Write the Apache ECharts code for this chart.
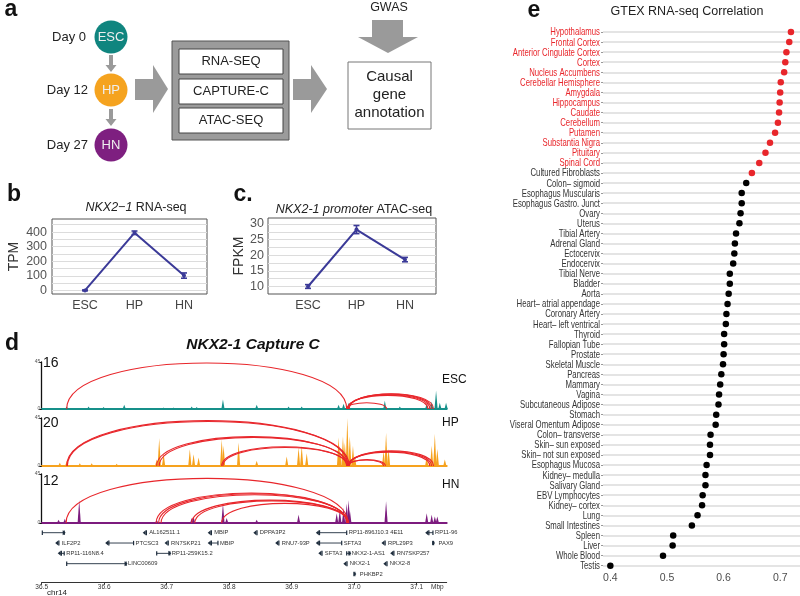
<!DOCTYPE html>
<html><head><meta charset="utf-8">
<script src="https://cdn.jsdelivr.net/npm/echarts@6/dist/echarts.min.js"></script>
<style>html,body{margin:0;padding:0;background:#fff}#c{width:800px;height:596px}</style>
</head><body><div id="c"></div>
<script>
// ================= DATA =================
const stageNames = ['ESC', 'HP', 'HN'];
const rnaTPM = [2, 395, 103];
const rnaErr = [3, 12, 18];
const rnaLabels = [0, 100, 200, 300, 400];
const rnaGrid = [0, 50, 100, 150, 200, 250, 300, 350, 400, 450];
const atacFPKM = [10, 28.2, 18.6];
const atacErr = [0.6, 1.3, 0.7];
const atacLabels = [10, 15, 20, 25, 30];
const atacGrid = [10, 12.5, 15, 17.5, 20, 22.5, 25, 27.5, 30];

const tissues = ['Hypothalamus','Frontal Cortex','Anterior Cingulate Cortex','Cortex','Nucleus Accumbens',
 'Cerebellar Hemisphere','Amygdala','Hippocampus','Caudate','Cerebellum','Putamen','Substantia Nigra',
 'Pituitary','Spinal Cord','Cultured Fibroblasts','Colon\u2013 sigmoid','Esophagus Muscularis',
 'Esophagus Gastro. Junct','Ovary','Uterus','Tibial Artery','Adrenal Gland','Ectocervix','Endocervix',
 'Tibial Nerve','Bladder','Aorta','Heart\u2013 atrial appendage','Coronary Artery','Heart\u2013 left ventrical',
 'Thyroid','Fallopian Tube','Prostate','Skeletal Muscle','Pancreas','Mammary','Vagina',
 'Subcutaneous Adipose','Stomach','Viseral Omentum Adipose','Colon\u2013 transverse','Skin\u2013 sun exposed',
 'Skin\u2013 not sun exposed','Esophagus Mucosa','Kidney\u2013 medulla','Salivary Gland','EBV Lymphocytes',
 'Kidney\u2013 cortex','Lung','Small Intestines','Spleen','Liver','Whole Blood','Testis'];
const gtexCorr = [0.719,0.716,0.711,0.709,0.707,0.701,0.700,0.699,0.698,0.696,0.691,0.682,0.674,0.663,
 0.650,0.640,0.632,0.632,0.630,0.628,0.622,0.620,0.619,0.617,0.611,0.611,0.609,0.607,0.605,0.604,
 0.601,0.601,0.600,0.599,0.596,0.594,0.592,0.591,0.587,0.586,0.577,0.576,0.576,0.570,0.568,0.568,
 0.563,0.562,0.554,0.544,0.511,0.510,0.493,0.400];
const brainLabelCount = 14;
const redDotCount = 15;
const gtexTicks = [0.4, 0.5, 0.6, 0.7];

const chrTicks = [36.5, 36.6, 36.7, 36.8, 36.9, 37.0, 37.1];
// peaks: [position (Mbp), signal]
const escPeaks = [[36.540,2.5],[36.575,2.5],[36.599,2],[36.632,4],[36.695,1.5],[36.711,1.5],[36.740,2.5],
 [36.748,2],[36.790,9],[36.844,4],[36.895,2.5],[36.916,2.5],[36.975,4],[36.983,5],[36.991,6],[37.049,8],
 [37.073,2.5],[37.116,5],[37.124,7],[37.131,17.5],[37.137,6],[37.147,6]];
const hpPeaks = [[36.529,3],[36.540,4.7],[36.561,2.5],[36.580,2.5],[36.620,2],[36.684,6],[36.688,26],
 [36.695,12],[36.737,15.6],[36.743,11],[36.751,8],[36.788,25],[36.791,19],[36.815,22],[36.844,5],
 [36.892,9],[36.911,17],[36.916,19],[36.924,12],[36.975,27],[36.977,19],[36.982,28],[36.985,22],
 [36.989,44.7],[36.993,28],[36.998,19],[37.001,9],[37.047,14],[37.051,31],[37.055,16],[37.116,9],
 [37.124,19],[37.129,30],[37.133,16],[37.145,6]];
const hnPeaks = [[36.527,3],[36.537,4],[36.560,21],[36.684,3],[36.740,4.5],[36.743,6],[36.790,18],
 [36.796,4.5],[36.844,3],[36.911,7.6],[36.972,9],[36.977,12],[36.983,13.7],[36.988,18],[36.991,21],
 [36.993,12],[37.051,20],[37.116,9],[37.124,7.6],[37.129,6],[37.133,6]];
// arcs: [from, to, apex height]
const escArcs = [[36.540,36.988,44],[36.988,37.052,6],[36.989,37.118,13],[36.990,37.121,13.6],
 [36.991,37.124,14.2],[36.992,37.127,14.6]];
const hpArcs = [[36.540,36.990,42.5],[36.541,36.992,41.7],[36.684,36.988,27.5],[36.688,36.990,26.8],
 [36.788,36.988,18],[36.790,36.990,17.3],[36.990,37.121,13],[36.991,37.124,13.6],[36.992,37.127,14.2],
 [36.990,37.047,5.6],[36.991,37.050,6]];
const hnArcs = [[36.539,36.990,41],[36.683,36.988,27.5],[36.687,36.989,26.8],[36.691,36.990,26],
 [36.740,36.990,21],[36.745,36.991,20.3],[36.788,36.990,18]];
const trackNames = ['ESC', 'HP', 'HN'];
const trackCounts = ['16', '20', '12'];
// genes: [name, start, end, row, strand]
const genes = [['',36.501,36.536,1,'+'],['AL162511.1',36.664,36.664,1,'-'],['MBIP',36.768,36.768,1,'-'],
 ['DPPA3P2',36.841,36.841,1,'-'],['RP11-896J10.3 4E11',36.941,36.988,1,'-'],['RP11-96',37.116,37.126,1,'-'],
 ['ILF2P2',36.524,36.524,2,'-'],['PTCSC3',36.604,36.647,2,'-'],['RN7SKP21',36.699,36.699,2,'-'],
 ['MBIP',36.768,36.782,2,'-'],['RNU7-93P',36.876,36.876,2,'-'],['SFTA3',36.941,36.980,2,'-'],
 ['RPL29P3',37.046,37.046,2,'-'],['PAX9',37.127,37.127,2,'+'],
 ['RP11-116N8.4',36.528,36.536,3,'-'],['RP11-259K15.2',36.684,36.705,3,'+'],['SFTA3',36.945,36.945,3,'-'],
 ['NKX2-1-AS1',36.988,36.993,3,'+'],['RN7SKP257',37.060,37.060,3,'-'],
 ['LINC00609',36.540,36.635,4,'+'],['NKX2-1',36.985,36.985,4,'-'],['NKX2-8',37.049,37.049,4,'-'],
 ['PHKBP2',37.001,37.001,5,'+']];

// ================= STYLE =================
const FONT = "'Liberation Sans', Arial, Helvetica, sans-serif";
const LINE_BLUE = '#3b3a98';
const RED = '#e8262b';
const TRACK_COLORS = ['#16908a', '#f6a21e', '#7c1b7e'];
const GTEX_MIN = 0.387, GTEX_MAX = 0.735;

function txt(x, y, text, size, o = {}) {
  const st = {
    text, x: 0, y: 0, fontSize: size, fontFamily: o.family || FONT,
    fontWeight: o.weight || 'normal', fontStyle: o.style || 'normal', fill: o.color || '#222',
    align: o.align || 'center', verticalAlign: 'middle',
    textAlign: o.align || 'center', textVerticalAlign: 'middle'
  };
  if (o.rich) st.rich = o.rich;
  const el = { type: 'text', x, y, style: st, z: 100 };
  if (o.scaleX) el.scaleX = o.scaleX;
  return el;
}
function poly(points, fill) { return { type: 'polygon', shape: { points }, style: { fill }, z: 50 }; }
function rect(x, y, w, h, fill, stroke, lw) { return { type: 'rect', shape: { x, y, width: w, height: h }, style: { fill, stroke, lineWidth: lw || 1 }, z: 50 }; }

const ARROW_GRAY = '#9a9a9a';
const graphics = [
  // panel letters
  txt(11, 10, 'a', 23, { weight: 'bold', color: '#111' }),
  txt(14, 195, 'b', 23, { weight: 'bold', color: '#111' }),
  txt(243, 195, 'c.', 23, { weight: 'bold', color: '#111' }),
  txt(12, 344, 'd', 23, { weight: 'bold', color: '#111' }),
  txt(534, 11, 'e', 23, { weight: 'bold', color: '#111' }),
  // panel a
  txt(86, 37, 'Day 0', 13, { align: 'right' }),
  txt(88, 90, 'Day 12', 13, { align: 'right' }),
  txt(88, 145, 'Day 27', 13, { align: 'right' }),
  { type: 'circle', shape: { cx: 111, cy: 37, r: 16.5 }, style: { fill: '#10857f' }, z: 50 },
  { type: 'circle', shape: { cx: 111, cy: 90, r: 16.5 }, style: { fill: '#f5a31f' }, z: 50 },
  { type: 'circle', shape: { cx: 111, cy: 145, r: 16.5 }, style: { fill: '#7e1f80' }, z: 50 },
  txt(111, 37, 'ESC', 13, { color: '#eee' }),
  txt(111, 90, 'HP', 13, { color: '#eee' }),
  txt(111, 145, 'HN', 13, { color: '#eee' }),
  poly([[109,55],[113,55],[113,65],[116.5,65],[111,72],[105.5,65],[109,65]], ARROW_GRAY),
  poly([[109,109],[113,109],[113,119],[116.5,119],[111,126],[105.5,119],[109,119]], ARROW_GRAY),
  poly([[135,79],[153,79],[153,65],[168,89],[153,113],[153,100],[135,100]], ARROW_GRAY),
  rect(172, 41, 117, 99, '#9b9b9b', '#555', 1),
  rect(179, 49, 104, 25, '#fff', '#444', 1),
  rect(179, 79, 104, 25, '#fff', '#444', 1),
  rect(179, 108, 104, 25, '#fff', '#444', 1),
  txt(231, 61.5, 'RNA-SEQ', 13),
  txt(231, 91.5, 'CAPTURE-C', 13),
  txt(231, 120.5, 'ATAC-SEQ', 13),
  poly([[293,79],[311,79],[311,65],[327,89],[311,113],[311,100],[293,100]], ARROW_GRAY),
  txt(389, 8, 'GWAS', 12.5),
  poly([[372,20],[403,20],[403,37],[418,37],[388,53],[358,37],[372,37]], ARROW_GRAY),
  rect(348, 62, 83, 67, '#fff', '#777', 1),
  txt(389.5, 77, 'Causal', 15),
  txt(389.5, 95, 'gene', 15),
  txt(389.5, 113, 'annotation', 15),
  // panel b / c titles
  txt(136, 208, '{i|NKX2\u22121} RNA-seq', 12.5, { rich: { i: { fontStyle: 'italic', fontSize: 12.5, fontFamily: FONT, fill: '#222' } } }),
  txt(354, 210, '{i|NKX2-1 promoter} ATAC-seq', 12.5, { rich: { i: { fontStyle: 'italic', fontSize: 12.5, fontFamily: FONT, fill: '#222' } } }),
  // panel d
  txt(253, 345, 'NKX2-1 Capture C', 15.5, { weight: 'bold', style: 'italic', color: '#111' }),
  txt(43, 363, trackCounts[0], 14, { align: 'left', color: '#111' }),
  txt(43, 423, trackCounts[1], 14, { align: 'left', color: '#111' }),
  txt(43, 481, trackCounts[2], 14, { align: 'left', color: '#111' }),
  txt(442, 380, trackNames[0], 12, { align: 'left', color: '#111' }),
  txt(442, 423, trackNames[1], 12, { align: 'left', color: '#111' }),
  txt(442, 485, trackNames[2], 12, { align: 'left', color: '#111' }),
  txt(431, 587, 'Mbp', 6.5, { align: 'left', color: '#333' }),
  txt(47, 593, 'chr14', 8, { align: 'left', color: '#222' }),
  // panel e title
  txt(687, 12, 'GTEX RNA-seq Correlation', 12.5, { color: '#222' })
];

// ================= HELPERS =================
function errorBarSeries(xi, yi, vals, errs) {
  return {
    type: 'custom', xAxisIndex: xi, yAxisIndex: yi, z: 5,
    data: vals.map((v, i) => [i, v, errs[i]]),
    renderItem(params, api) {
      const x = api.value(0), v = api.value(1), e = api.value(2);
      const t = api.coord([x, v + e]), b = api.coord([x, v - e]);
      const w = 3, st = { stroke: LINE_BLUE, lineWidth: 1.6 };
      return { type: 'group', children: [
        { type: 'line', shape: { x1: t[0], y1: t[1], x2: b[0], y2: b[1] }, style: st },
        { type: 'line', shape: { x1: t[0] - w, y1: t[1], x2: t[0] + w, y2: t[1] }, style: st },
        { type: 'line', shape: { x1: b[0] - w, y1: b[1], x2: b[0] + w, y2: b[1] }, style: st }
      ] };
    }
  };
}
function peakSeries(idx, peaks, color) {
  return {
    type: 'custom', xAxisIndex: idx, yAxisIndex: idx, z: 3, data: peaks,
    renderItem(params, api) {
      const p = api.coord([api.value(0), api.value(1)]);
      const b = api.coord([api.value(0), 0]);
      const w = 1.6;
      return { type: 'polygon', shape: { points: [[p[0] - w, b[1]], [p[0], p[1]], [p[0] + w, b[1]]] }, style: { fill: color } };
    }
  };
}
function arcSeries(idx, arcs) {
  return {
    type: 'custom', xAxisIndex: idx, yAxisIndex: idx, z: 6, data: arcs,
    renderItem(params, api) {
      const a = api.coord([api.value(0), 0]);
      const b = api.coord([api.value(1), 0]);
      const t = api.coord([api.value(0), api.value(2)]);
      const h = (a[1] - t[1]) * 4 / 3;
      return { type: 'bezierCurve', shape: { x1: a[0], y1: a[1], x2: b[0], y2: b[1], cpx1: a[0], cpy1: a[1] - h, cpx2: b[0], cpy2: b[1] - h },
        style: { stroke: RED, fill: null, lineWidth: 1.1 } };
    }
  };
}
function trackAxes(idx, color) {
  return {
    x: { type: 'value', gridIndex: idx, min: 36.5, max: 37.148, axisLine: { show: true, lineStyle: { color, width: 2 } },
      axisTick: { show: false }, axisLabel: { show: false }, splitLine: { show: false } },
    y: { type: 'value', gridIndex: idx, min: 0, max: 45, interval: 45, axisLine: { show: true, lineStyle: { color: '#111', width: 1.3 } },
      axisTick: { show: true, length: 2.5, lineStyle: { color: '#111' } },
      axisLabel: { fontSize: 5, color: '#555', margin: 1.5, fontFamily: FONT }, splitLine: { show: false } }
  };
}
const tA = TRACK_COLORS.map((c, i) => trackAxes(2 + i, c));

// ================= OPTION =================
const option = {
  animation: false,
  backgroundColor: '#fff',
  textStyle: { fontFamily: FONT },
  graphic: { elements: graphics },
  grid: [
    { left: 52, top: 219, width: 155, height: 75, show: true, borderColor: '#555', borderWidth: 1, backgroundColor: 'transparent' },
    { left: 268, top: 218, width: 168, height: 76, show: true, borderColor: '#555', borderWidth: 1, backgroundColor: 'transparent' },
    { left: 41.7, top: 362, width: 405, height: 47 },
    { left: 41.7, top: 418, width: 405, height: 48 },
    { left: 41.7, top: 474, width: 405, height: 49 },
    { left: 41.7, top: 532.7, width: 405, height: 41.3 },
    { left: 603, top: 32, right: 0, bottom: 30.3 }
  ],
  xAxis: [
    { type: 'value', gridIndex: 0, min: -0.667, max: 2.465, axisLine: { show: false }, axisTick: { show: false }, splitLine: { show: false },
      axisLabel: { customValues: [0, 1, 2], formatter: v => stageNames[Math.round(v)], fontSize: 12.5, color: '#444', margin: 5 } },
    { type: 'value', gridIndex: 1, min: -0.825, max: 2.64, axisLine: { show: false }, axisTick: { show: false }, splitLine: { show: false },
      axisLabel: { customValues: [0, 1, 2], formatter: v => stageNames[Math.round(v)], fontSize: 12.5, color: '#444', margin: 5 } },
    tA[0].x, tA[1].x, tA[2].x,
    { type: 'value', gridIndex: 5, min: 36.5, max: 37.148, position: 'bottom', offset: 8.3,
      axisLine: { show: true, lineStyle: { color: '#333', width: 1 } },
      axisTick: { show: true, customValues: chrTicks, length: 2.5, lineStyle: { color: '#333' } },
      axisLabel: { customValues: chrTicks, formatter: v => v.toFixed(1), fontSize: 6.5, color: '#333', margin: 1.5 },
      splitLine: { show: false } },
    { type: 'value', gridIndex: 6, min: GTEX_MIN, max: GTEX_MAX, axisLine: { show: false }, axisTick: { show: false }, splitLine: { show: false },
      axisLabel: { customValues: gtexTicks, formatter: v => v.toFixed(1), fontSize: 10.5, color: '#4d4d4d', margin: 7 } }
  ],
  yAxis: [
    { type: 'value', gridIndex: 0, min: -22.6, max: 489, name: 'TPM', nameLocation: 'middle', nameGap: 31,
      nameTextStyle: { fontSize: 14, color: '#333' }, axisLine: { show: false },
      axisTick: { show: false, customValues: rnaGrid },
      axisLabel: { customValues: rnaLabels, fontSize: 12.5, color: '#555', margin: 5 },
      splitLine: { show: true, lineStyle: { color: '#dcdcdc', width: 1 } } },
    { type: 'value', gridIndex: 1, min: 7.6, max: 31.9, name: 'FPKM', nameLocation: 'middle', nameGap: 19,
      nameTextStyle: { fontSize: 14, color: '#333' }, axisLine: { show: false },
      axisTick: { show: false, customValues: atacGrid },
      axisLabel: { customValues: atacLabels, fontSize: 12.5, color: '#555', margin: 4 },
      splitLine: { show: true, lineStyle: { color: '#dcdcdc', width: 1 } } },
    tA[0].y, tA[1].y, tA[2].y,
    { type: 'value', gridIndex: 5, min: 1, max: 5, inverse: true, show: false },
    { type: 'category', gridIndex: 6, data: tissues, inverse: true, boundaryGap: false,
      axisLine: { show: false }, axisTick: { show: true, length: 2, interval: 0, lineStyle: { color: '#999' } },
      axisLabel: { show: false },
      splitLine: { show: true, interval: 0, lineStyle: { color: '#e4e4e4', width: 1.8 } } }
  ],
  series: [
    { type: 'line', xAxisIndex: 0, yAxisIndex: 0, data: rnaTPM.map((v, i) => [i, v]), z: 6,
      lineStyle: { color: LINE_BLUE, width: 2 }, itemStyle: { color: LINE_BLUE }, symbol: 'circle', symbolSize: 4 },
    errorBarSeries(0, 0, rnaTPM, rnaErr),
    { type: 'line', xAxisIndex: 1, yAxisIndex: 1, data: atacFPKM.map((v, i) => [i, v]), z: 6,
      lineStyle: { color: LINE_BLUE, width: 2 }, itemStyle: { color: LINE_BLUE }, symbol: 'circle', symbolSize: 4 },
    errorBarSeries(1, 1, atacFPKM, atacErr),
    peakSeries(2, escPeaks, TRACK_COLORS[0]),
    peakSeries(3, hpPeaks, TRACK_COLORS[1]),
    peakSeries(4, hnPeaks, TRACK_COLORS[2]),
    arcSeries(2, escArcs),
    arcSeries(3, hpArcs),
    arcSeries(4, hnArcs),
    { type: 'custom', xAxisIndex: 5, yAxisIndex: 5, z: 5,
      data: genes.map(g => [g[1], g[3], g[2]]),
      renderItem(params, api) {
        const g = genes[params.dataIndex];
        const s = api.coord([api.value(0), api.value(1)]);
        const e = api.coord([api.value(2), api.value(1)]);
        const y = s[1], col = '#1e2d3d';
        const kids = [];
        if (e[0] - s[0] > 2) {
          kids.push({ type: 'line', shape: { x1: s[0], y1: y, x2: e[0], y2: y }, style: { stroke: col, lineWidth: 0.9 } });
          kids.push({ type: 'rect', shape: { x: e[0] - 0.6, y: y - 2.2, width: 1.2, height: 4.4 }, style: { fill: col } });
        }
        if (g[4] === '-') {
          kids.push({ type: 'polygon', shape: { points: [[s[0] - 1.5, y], [s[0] + 1.5, y - 2.5], [s[0] + 1.5, y + 2.5]] }, style: { fill: col } });
          kids.push({ type: 'rect', shape: { x: s[0] + 1.5, y: y - 2.5, width: 1.3, height: 5 }, style: { fill: col } });
        } else {
          kids.push({ type: 'rect', shape: { x: s[0] - 0.6, y: y - 2.2, width: 1.2, height: 4.4 }, style: { fill: col } });
          kids.push({ type: 'polygon', shape: { points: [[e[0] + 1.5, y], [e[0] - 1.5, y - 2.5], [e[0] - 1.5, y + 2.5]] }, style: { fill: col } });
        }
        if (g[0]) kids.push({ type: 'text', style: { text: g[0], x: Math.max(e[0], s[0] + 3) + 2, y, fontSize: 5.8, fontFamily: FONT,
          fill: '#333', align: 'left', verticalAlign: 'middle' } });
        return { type: 'group', children: kids };
      } },
    // condensed tissue labels, placed on the category axis through the chart's own scale
    { type: 'custom', xAxisIndex: 6, yAxisIndex: 6, z: 5, silent: true,
      data: gtexCorr.map((v, i) => [v, tissues[i]]),
      renderItem(params, api) {
        const p = api.coord([GTEX_MIN, api.value(1)]);
        const i = params.dataIndex;
        return { type: 'text', x: p[0] - 3, y: p[1] + 0.5, scaleX: 0.72,
          style: { text: tissues[i], fontSize: 10.8, fontFamily: FONT, fill: i < brainLabelCount ? RED : '#333',
            align: 'right', verticalAlign: 'middle' } };
      } },
    { type: 'scatter', xAxisIndex: 6, yAxisIndex: 6, symbolSize: 6.5, z: 6,
      data: gtexCorr.map((v, i) => [v, tissues[i]]),
      itemStyle: { color: p => (p.dataIndex < redDotCount ? RED : '#000'), opacity: 1 } }
  ]
};
const chart = echarts.init(document.getElementById('c'), null, { renderer: 'canvas' });
chart.setOption(option);
</script>
</body></html>
